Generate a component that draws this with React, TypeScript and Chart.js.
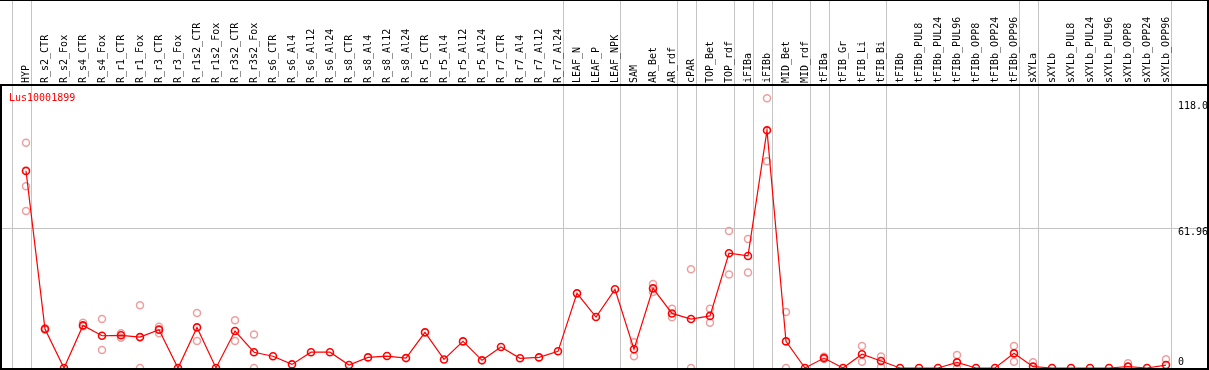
import React, { useEffect, useRef } from "react";
import { Chart, registerables } from "chart.js";

Chart.register(...registerables);

const geneName = "Lus10001899";

const categories = [
  "HYP", "R_s2_CTR", "R_s2_Fox", "R_s4_CTR", "R_s4_Fox", "R_r1_CTR", "R_r1_Fox", "R_r3_CTR", "R_r3_Fox",
  "R_r1s2_CTR", "R_r1s2_Fox", "R_r3s2_CTR", "R_r3s2_Fox", "R_s6_CTR", "R_s6_Al4", "R_s6_Al12", "R_s6_Al24",
  "R_s8_CTR", "R_s8_Al4", "R_s8_Al12", "R_s8_Al24", "R_r5_CTR", "R_r5_Al4", "R_r5_Al12", "R_r5_Al24",
  "R_r7_CTR", "R_r7_Al4", "R_r7_Al12", "R_r7_Al24", "LEAF_N", "LEAF_P", "LEAF_NPK", "SAM", "AR_Bet", "AR_rdf",
  "cPAR", "TOP_Bet", "TOP_rdf", "iFIBa", "iFIBb", "MID_Bet", "MID_rdf", "tFIBa", "tFIB_Gr", "tFIB_Li", "tFIB_Bi",
  "tFIBb", "tFIBb_PUL8", "tFIBb_PUL24", "tFIBb_PUL96", "tFIBb_OPP8", "tFIBb_OPP24", "tFIBb_OPP96",
  "sXYLa", "sXYLb", "sXYLb_PUL8", "sXYLb_PUL24", "sXYLb_PUL96", "sXYLb_OPP8", "sXYLb_OPP24", "sXYLb_OPP96",
];

const meanValues = [
  87.4, 17.3, 0, 18.9, 14.3, 14.5, 13.7, 17.0, 0,
  18.0, 0, 16.4, 7.0, 5.2, 1.6, 7.0, 7.0,
  1.3, 4.7, 5.3, 4.4, 15.8, 3.8, 11.8, 3.4,
  9.3, 4.3, 4.7, 7.4, 33.1, 22.6, 34.9, 8.3, 35.3, 24.2,
  21.7, 23.1, 50.9, 49.7, 105.4, 11.8, 0, 4.4, 0, 6.1, 3.1,
  0, 0, 0, 2.5, 0, 0, 6.5,
  0.6, 0, 0, 0, 0, 0.6, 0, 1.3,
];

const replicateA = [
  99.9, 17.6, null, 20.1, 21.7, 15.4, 27.8, 18.3, null,
  24.4, null, 21.2, 14.9, null, null, null, null,
  null, null, null, null, null, null, null, null,
  null, null, null, null, null, null, null, 11.4, 37.3, 26.3,
  43.8, 26.3, 60.8, 57.2, 119.6, 24.8, null, 5.0, null, 9.8, 5.1,
  null, null, null, 5.8, null, null, 9.8,
  2.5, null, null, null, null, 2.1, null, 3.9,
];

const replicateB = [
  80.6, 17.0, null, 18.5, 8.0, 13.4, 0, 15.4, null,
  12.0, null, 12.0, 0, null, null, null, null,
  null, null, null, null, null, null, null, null,
  null, null, null, null, null, null, null, 5.2, 33.7, 22.5,
  0, 20.1, 41.5, 42.4, 91.7, 0, null, 4.0, null, 2.8, 0.6,
  null, null, null, 0, null, null, 2.8,
  null, null, null, null, null, null, null, null,
];

const replicateC = [
  69.6, null, null, null, null, null, null, null, null,
  null, null, null, null, null, null, null, null,
  null, null, null, null, null, null, null, null,
  null, null, null, null, null, null, null, null, null, null,
  null, null, null, null, null, null, null, null, null, null, null,
  null, null, null, null, null, null, null,
  null, null, null, null, null, null, null, null,
];

// indices after which a group separator line is drawn
const groupEnds = [-1, 0, 28, 31, 34, 35, 37, 38, 39, 41, 42, 45, 52, 53, 60];

const yTickValues = [0, 61.96, 118.0];
const yTickLabels = ["0", "61.96", "118.0"];

const FONT = '10px "DejaVu Sans Mono", monospace';

export default function App() {
  const canvasRef = useRef<HTMLCanvasElement | null>(null);

  useEffect(() => {
    document.body.style.margin = "0";
    const canvas = canvasRef.current;
    if (!canvas) return;

    const meanPoints = meanValues.map((v, i) => ({ x: i, y: v }));
    const repPoints: { x: number; y: number }[] = [];
    [replicateA, replicateB, replicateC].forEach((arr) => {
      arr.forEach((v, i) => {
        if (v !== null && v !== undefined) repPoints.push({ x: i, y: v as number });
      });
    });

    const decor = {
      id: "decor",
      beforeDatasetsDraw(chart: any) {
        const ctx = chart.ctx;
        const xs = chart.scales.x;
        const ys = chart.scales.y;
        const area = chart.chartArea;
        ctx.save();
        ctx.fillStyle = "#c4c4c4";
        groupEnds.forEach((g) => {
          const px = Math.round(xs.getPixelForValue(g + 0.25));
          ctx.fillRect(px, 0, 1, area.bottom);
        });
        yTickValues.forEach((v) => {
          if (v === 61.96) {
            const py = Math.round(ys.getPixelForValue(v));
            ctx.fillRect(0, py, area.right, 1);
          }
        });
        ctx.restore();
      },
      afterDatasetsDraw(chart: any) {
        const ctx = chart.ctx;
        const xs = chart.scales.x;
        const ys = chart.scales.y;
        const area = chart.chartArea;
        const W = chart.width;
        ctx.save();
        // borders
        ctx.fillStyle = "#000";
        ctx.fillRect(0, 0, W, 1);
        ctx.fillRect(0, 84, W, 2);
        ctx.fillRect(0, 85, 2, area.bottom - 85);
        ctx.fillRect(0, area.bottom, W, 2);
        ctx.fillRect(area.right, 0, 2, area.bottom + 2);

        // category labels
        ctx.font = FONT;
        ctx.fillStyle = "#000";
        categories.forEach((c, i) => {
          const px = xs.getPixelForValue(i);
          ctx.save();
          ctx.translate(px, 83);
          ctx.rotate(-Math.PI / 2);
          ctx.textAlign = "left";
          ctx.textBaseline = "middle";
          ctx.fillText(c, 0, 0);
          ctx.restore();
        });

        // gene name
        ctx.fillStyle = "#ff0000";
        ctx.textAlign = "left";
        ctx.textBaseline = "middle";
        ctx.fillText(geneName, 9, 98);

        // y labels
        ctx.fillStyle = "#000";
        yTickValues.forEach((v, k) => {
          const py = ys.getPixelForValue(v);
          ctx.fillText(yTickLabels[k], 1178, Math.min(py + 4.5, 362));
        });
        ctx.restore();
      },
    };

    const chart = new Chart(canvas, {
      type: "line",
      data: {
        datasets: [
          {
            type: "line",
            data: meanPoints,
            borderColor: "#ff0000",
            borderWidth: 1.2,
            pointRadius: 3.5,
            pointBorderWidth: 1.6,
            pointBorderColor: "#ff0000",
            pointBackgroundColor: "rgba(0,0,0,0)",
            tension: 0,
            clip: false as any,
            order: 0,
          },
          {
            type: "scatter",
            data: repPoints,
            showLine: false,
            pointRadius: 3.5,
            pointBorderWidth: 1.5,
            pointBorderColor: "#ef9e9e",
            pointBackgroundColor: "rgba(0,0,0,0)",
            clip: false as any,
            order: 1,
          } as any,
        ],
      },
      options: {
        responsive: false,
        animation: false,
        events: [],
        layout: { autoPadding: false, padding: { left: 1, right: 2, top: 85, bottom: 2 } } as any,
        plugins: { legend: { display: false }, tooltip: { enabled: false } },
        scales: {
          x: { type: "linear", min: -25 / 19, max: 1181 / 19, display: false },
          y: { type: "linear", min: 0, max: 125.5, display: false },
        },
      },
      plugins: [decor],
    });

    return () => chart.destroy();
  }, []);

  return (
    <canvas
      ref={canvasRef}
      width={1209}
      height={370}
      style={{ display: "block", width: "1209px", height: "370px" }}
    />
  );
}
